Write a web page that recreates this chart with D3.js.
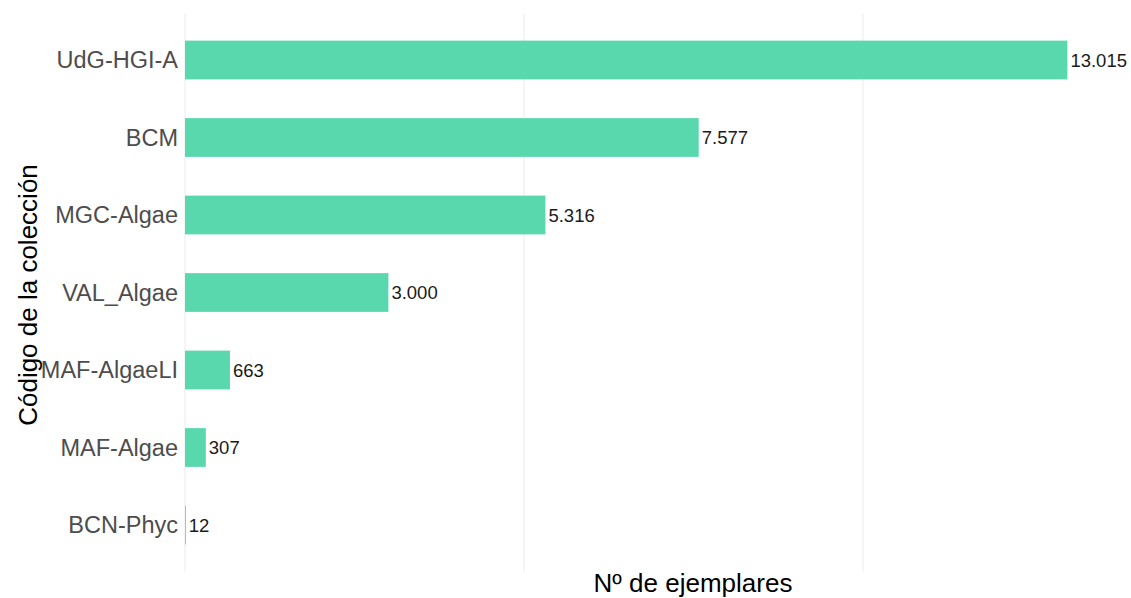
<!DOCTYPE html>
<html>
<head>
<meta charset="utf-8">
<script src="https://cdn.jsdelivr.net/npm/d3@7"></script>
<style>
  body { margin: 0; background: #fff; }
  svg { display: block; font-family: "Liberation Sans", Arial, sans-serif; }
</style>
</head>
<body>
<div id="chart"></div>
<script>
const categories = ["UdG-HGI-A", "BCM", "MGC-Algae", "VAL_Algae", "MAF-AlgaeLI", "MAF-Algae", "BCN-Phyc"];
const counts = [13015, 7577, 5316, 3000, 663, 307, 12];
const gridTicks = [0, 5000, 10000];

const width = 1131, height = 598;
const fmt = d3.formatLocale({ decimal: ",", thousands: ".", grouping: [3], currency: ["", "€"] }).format(",d");

const svg = d3.select("#chart").append("svg")
    .attr("width", width)
    .attr("height", height);

const x = d3.scaleLinear().domain([0, 10000]).range([185, 863]);
const y = d3.scaleBand().domain(categories).range([13.5, 571.5])
    .paddingInner(0.5).paddingOuter(0.35);

// vertical grid lines
svg.append("g")
    .selectAll("line")
    .data(gridTicks)
    .join("line")
    .attr("x1", d => x(d)).attr("x2", d => x(d))
    .attr("y1", 13.5).attr("y2", 571.5)
    .attr("stroke", "#ebebeb")
    .attr("stroke-width", 1);

// bars
svg.append("g")
    .selectAll("rect")
    .data(categories)
    .join("rect")
    .attr("x", x(0))
    .attr("y", d => y(d))
    .attr("width", (d, i) => x(counts[i]) - x(0))
    .attr("height", y.bandwidth())
    .attr("fill", "#59d8ae");

// value labels
svg.append("g")
    .selectAll("text")
    .data(categories)
    .join("text")
    .attr("x", (d, i) => x(counts[i]) + 3)
    .attr("y", d => y(d) + y.bandwidth() / 2)
    .attr("dy", "0.36em")
    .style("font-size", "18.5px")
    .style("fill", "#1a1a1a")
    .text((d, i) => fmt(counts[i]));

// y axis labels
svg.append("g")
    .selectAll("text")
    .data(categories)
    .join("text")
    .attr("x", 178)
    .attr("y", d => y(d) + y.bandwidth() / 2)
    .attr("dy", "0.36em")
    .attr("text-anchor", "end")
    .style("font-size", "23.5px")
    .style("fill", "#4d4d4d")
    .text(d => d);

// axis titles
svg.append("text")
    .attr("x", 693)
    .attr("y", 592)
    .attr("text-anchor", "middle")
    .style("font-size", "26px")
    .style("fill", "#000")
    .text("Nº de ejemplares");

svg.append("text")
    .attr("transform", "translate(37,295) rotate(-90)")
    .attr("text-anchor", "middle")
    .style("font-size", "26px")
    .style("fill", "#000")
    .text("Código de la colección");
</script>
</body>
</html>
